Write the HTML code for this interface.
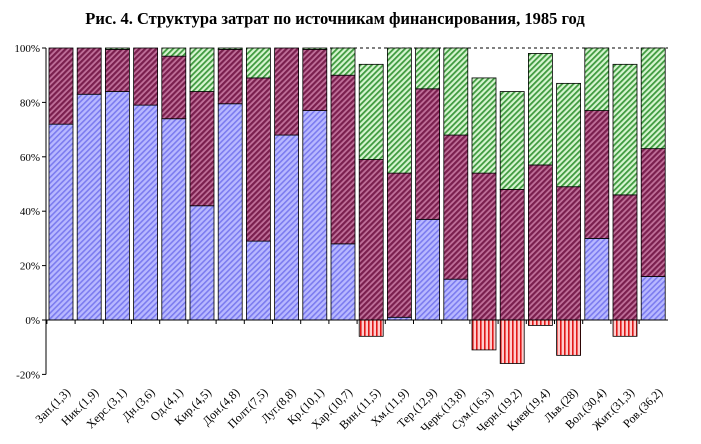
<!DOCTYPE html>
<html><head><meta charset="utf-8"><style>
html,body{margin:0;padding:0;background:#fff;}
svg{display:block;}
</style></head><body>
<svg id="c" width="701" height="444" xmlns="http://www.w3.org/2000/svg" font-family="Liberation Serif, serif">
<defs>
<pattern id="pb" width="4" height="4" patternUnits="userSpaceOnUse" patternTransform="rotate(45)"><rect width="4" height="4" fill="#b8b8ff"/><rect width="1.6" height="4" fill="#7b7bef"/></pattern>
<pattern id="pp" width="4" height="4" patternUnits="userSpaceOnUse" patternTransform="rotate(45)"><rect width="4" height="4" fill="#c0709a"/><rect width="2.2" height="4" fill="#7a1f4e"/></pattern>
<pattern id="pg" width="4" height="4" patternUnits="userSpaceOnUse" patternTransform="rotate(45)"><rect width="4" height="4" fill="#d6f5d0"/><rect width="1.8" height="4" fill="#3f9a3f"/></pattern>
<pattern id="pr" width="4" height="4" patternUnits="userSpaceOnUse"><rect width="4" height="4" fill="#ffcccc"/><rect width="1.6" height="4" fill="#e01818"/></pattern>
</defs>
<text x="335" y="24" text-anchor="middle" font-size="16.5" font-weight="bold">Рис. 4. Структура затрат по источникам финансирования, 1985 год</text>
<g id="g"></g>
</svg>
<script>
var d=[["Зап.(1,3)",0,72,100,100],["Ник.(1,9)",0,83,100,100],["Херс.(3,1)",0,84,99.5,100],["Дн.(3,6)",0,79,100,100],["Од.(4,1)",0,74,97,100],["Кир.(4,5)",0,42,84,100],["Дон.(4,8)",0,79.5,99.5,100],["Полт.(7,5)",0,29,89,100],["Луг.(8,8)",0,68,100,100],["Кр.(10,1)",0,77,99.5,100],["Хар.(10,7)",0,28,90,100],["Вин.(11,5)",-6,0,59,94],["Хм.(11,9)",0,1,54,100],["Тер.(12,9)",0,37,85,100],["Черк.(13,8)",0,15,68,100],["Сум.(16,3)",-11,0,54,89],["Черн.(19,2)",-16,0,48,84],["Киев(19,4)",-2,0,57,98],["Льв.(28)",-13,0,49,87],["Вол.(30,4)",0,30,77,100],["Жит.(31,3)",-6,0,46,94],["Ров.(36,2)",0,16,63,100]];
function Y(v){return 320-v*2.72;}
var s='';var P=28.2,W=24,X0=49;
[100,80,60,40,20,0,-20].forEach(function(v){s+='<text x="40" y="'+(Y(v)+4)+'" text-anchor="end" font-size="11">'+v+'%</text><line x1="42" x2="46" y1="'+Y(v)+'" y2="'+Y(v)+'" stroke="#000"/>';});
s+='<line x1="330" x2="668" y1="'+Y(100)+'" y2="'+Y(100)+'" stroke="#000" stroke-dasharray="3,3"/>';
function r(x,a,b,f){if(b-a<=0.05)return '';var y1=Y(b),y2=Y(a);return '<rect x="'+x+'" y="'+y1+'" width="'+W+'" height="'+(y2-y1)+'" fill="url(#'+f+')" stroke="#000" stroke-width="0.8"/>';}
d.forEach(function(e,i){var x=X0+i*P;
s+=r(x,e[1],0,'pr');s+=r(x,0,e[2],'pb');s+=r(x,e[2],e[3],'pp');s+=r(x,e[3],e[4],'pg');
var tx=x-2.1;s+='<line x1="'+tx+'" x2="'+tx+'" y1="320" y2="324" stroke="#000"/>';
var cx=x+W/2+10;s+='<text transform="translate('+cx+',393) rotate(-45)" text-anchor="end" font-size="12">'+e[0]+'</text>';
});
s+='<line x1="46" x2="46" y1="'+Y(100)+'" y2="'+Y(-20)+'" stroke="#000"/>';
s+='<line x1="46" x2="668" y1="320" y2="320" stroke="#000"/>';
document.getElementById('g').innerHTML=s;
</script>
</body></html>
